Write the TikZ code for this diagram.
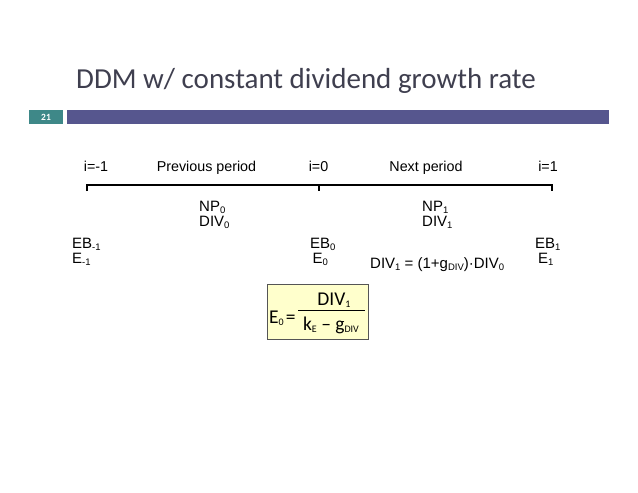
\documentclass[tikz,border=0pt]{standalone}
\usepackage{fontspec}
\setmainfont{Liberation Sans}
\newfontfamily\carl{Carlito}
\definecolor{titlecol}{HTML}{3F3F4F}
\definecolor{barcol}{HTML}{56568E}
\definecolor{tealcol}{HTML}{3E8888}
\definecolor{boxfill}{HTML}{FFFFCC}
\definecolor{boxline}{HTML}{555555}
\newcommand{\lsub}[1]{\raisebox{-2.2pt}{\fontsize{9.5}{9.5}\selectfont #1}}
\newcommand{\fsub}[1]{\raisebox{-2.5pt}{\fontsize{10}{10}\selectfont #1}}
\begin{document}
\begin{tikzpicture}[x=1pt,y=-1pt,
  lab/.style={font=\fontsize{14.3}{14}\selectfont, inner sep=0, anchor=base},
  labw/.style={font=\fontsize{15}{15}\selectfont, inner sep=0, anchor=base west},
  fml/.style={font=\carl\fontsize{19.5}{20}\selectfont, inner sep=0},
  brk/.style={line width=2.5pt}]
\useasboundingbox (0,0) rectangle (638,493);
\fill[white] (0,0) rectangle (638,493);
% header
\node[anchor=base west, inner sep=0, font=\carl\fontsize{29}{34}\selectfont, text=titlecol] (title) at (76,88) {DDM w/ constant dividend growth rate};
\node[fill=tealcol, minimum width=34pt, minimum height=14pt, text=white, font=\carl\bfseries\fontsize{9.5}{10}\selectfont, inner sep=0] (num) at (46,117) {21};
\node[fill=barcol, minimum width=542pt, minimum height=14pt, inner sep=0] (bar) at (338,117) {};
% period labels
\node[lab] (im1) at (96,171) {i=-1};
\node[lab] (prev) at (206.5,171) {Previous period};
\node[lab] (i0) at (318.5,171) {i=0};
\node[lab] (next) at (426,171) {Next period};
\node[lab] (i1) at (548,171) {i=1};
% bracket
\coordinate (La) at (87,185); \coordinate (Lb) at (87,191);
\coordinate (Ma) at (319,185); \coordinate (Mb) at (319,191);
\coordinate (Ra) at (552,185); \coordinate (Rb) at (552,191);
\draw[brk] (Lb) -- (La) -- (Ra) -- (Rb);
\draw[brk] (Ma) -- (Mb);
% values
\node[labw] (np0) at (199,211) {NP\lsub{0}};
\node[labw] (div0) at (199,226) {DIV\lsub{0}};
\node[labw] (np1) at (422,211) {NP\lsub{1}};
\node[labw] (div1) at (422,226) {DIV\lsub{1}};
\node[labw] (ebm1) at (72,248) {EB\lsub{-1}};
\node[labw] (em1) at (72,263) {E\lsub{-1}};
\node[labw] (eb0) at (310,248) {EB\lsub{0}};
\node[labw] (e0) at (312.5,263) {E\lsub{0}};
\node[labw] (eb1) at (535,248) {EB\lsub{1}};
\node[labw] (e1) at (538,263) {E\lsub{1}};
\node[labw] (grow) at (370,268) {DIV\lsub{1} = (1+g\lsub{DIV})·DIV\lsub{0}};
% formula box
\node[draw=boxline, fill=boxfill, line width=0.8pt, minimum width=101pt, minimum height=55pt, inner sep=0] (fbox) at (317.5,311.5) {};
\node[fml, anchor=base west] (fe) at (269,323) {E\fsub{0}\hspace{2pt}=};
\coordinate (fa) at (298,310); \coordinate (fb) at (365,310);
\draw[line width=0.9pt] (fa) -- (fb);
\node[fml, anchor=base] (fnum) at (334,305) {DIV\fsub{1}};
\node[fml, anchor=base] (fden) at (331,330) {k\fsub{E} – g\fsub{DIV}};
\end{tikzpicture}
\end{document}
